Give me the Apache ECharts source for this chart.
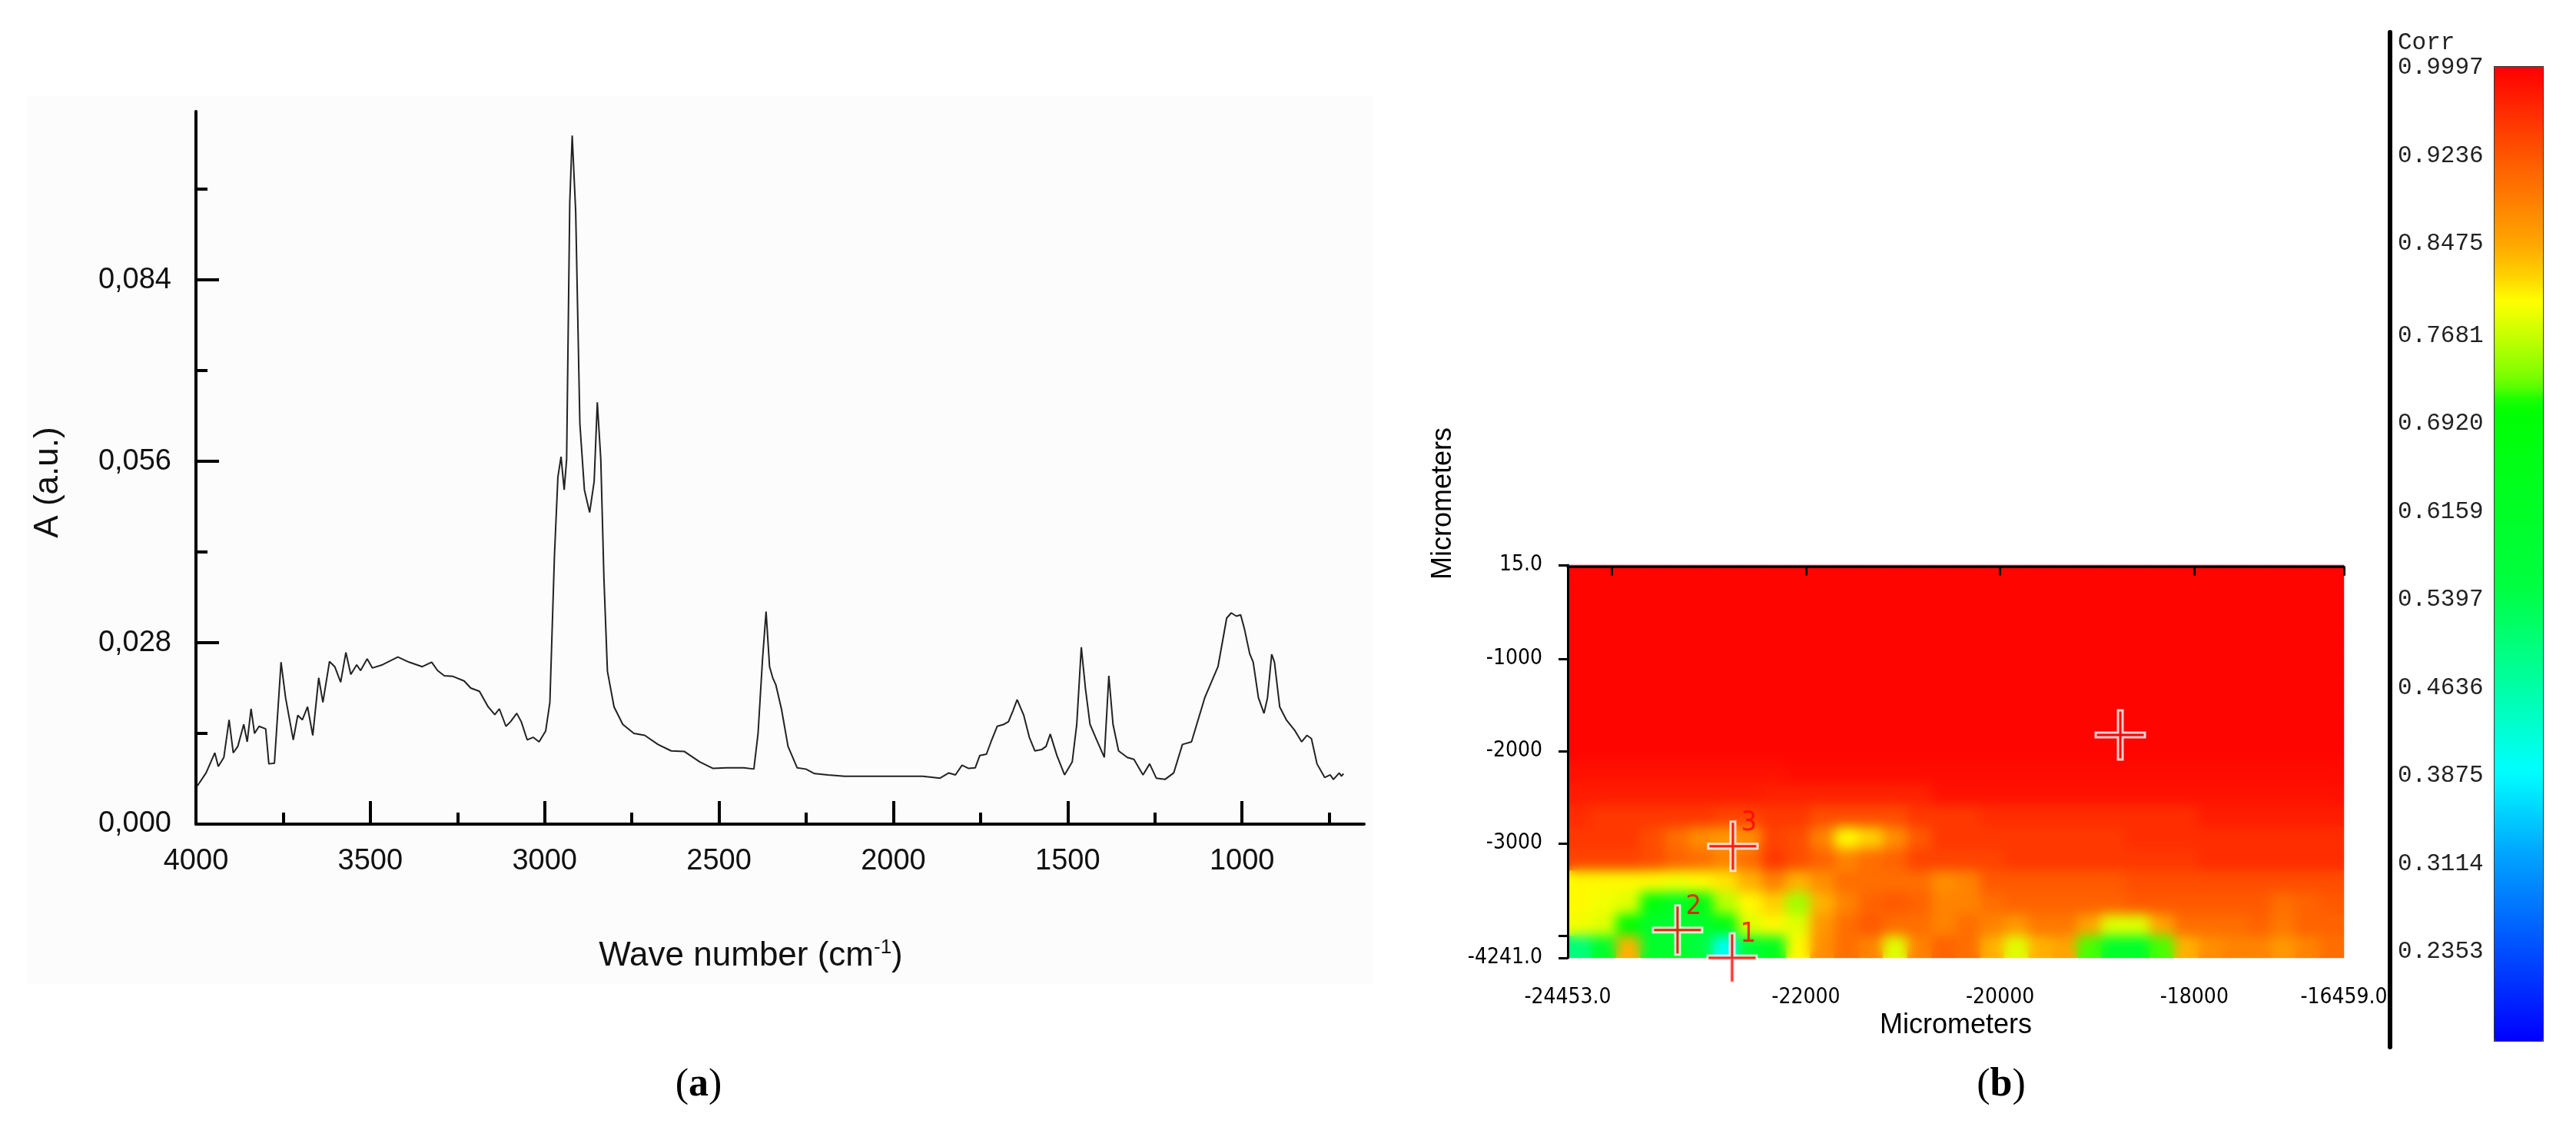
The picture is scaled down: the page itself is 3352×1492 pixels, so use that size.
<!DOCTYPE html>
<html>
<head>
<meta charset="utf-8">
<title>FTIR spectrum and correlation map</title>
<script src="https://cdn.jsdelivr.net/npm/echarts@6.0.0/dist/echarts.min.js"></script>
<style>
  html, body { margin: 0; padding: 0; background: #fff; }
  #chart { width: 3352px; height: 1492px; }
</style>
</head>
<body>
<div id="chart"></div>
<script>
// ---- (a) spectrum ----
var waveNumbers = [3996, 3971, 3946, 3936, 3920, 3905, 3893, 3880, 3863, 3853, 3842, 3832, 3819, 3800, 3791, 3775,
  3756, 3743, 3721, 3708, 3695, 3680, 3665, 3648, 3636, 3617, 3602, 3585, 3570, 3556, 3539, 3528, 3509, 3494,
  3465, 3421, 3389, 3351, 3324, 3307, 3288, 3263, 3231, 3212, 3187, 3162, 3143, 3130, 3111, 3098, 3080, 3067,
  3050, 3033, 3016, 2997, 2985, 2972, 2962, 2953, 2944, 2937, 2928, 2921, 2911, 2899, 2886, 2871, 2858, 2849,
  2839, 2830, 2820, 2801, 2776, 2744, 2713, 2675, 2637, 2599, 2555, 2517, 2479, 2428, 2400, 2388, 2375, 2365,
  2355, 2346, 2337, 2321, 2302, 2276, 2251, 2226, 2188, 2140, 2106, 2043, 1980, 1916, 1866, 1841, 1822, 1803,
  1784, 1765, 1752, 1733, 1720, 1702, 1683, 1670, 1657, 1645, 1626, 1610, 1594, 1575, 1562, 1550, 1531, 1509,
  1487, 1474, 1461, 1449, 1436, 1417, 1395, 1382, 1370, 1354, 1329, 1310, 1284, 1265, 1246, 1221, 1196, 1171,
  1145, 1107, 1069, 1044, 1031, 1016, 1004, 993, 978, 968, 953, 937, 927, 915, 907, 892, 873, 848, 829, 814,
  801, 785, 763, 747, 738, 721, 715, 709];
var absorbance = [0.0059, 0.0079, 0.0110, 0.0089, 0.0103, 0.0161, 0.0110, 0.0120, 0.0154, 0.0127, 0.0178, 0.0140, 0.0151, 0.0147, 0.0093, 0.0094,
  0.0250, 0.0195, 0.0130, 0.0168, 0.0161, 0.0181, 0.0137, 0.0226, 0.0188, 0.0251, 0.0243, 0.0219, 0.0265, 0.0231, 0.0246, 0.0237, 0.0255, 0.0241,
  0.0246, 0.0258, 0.0250, 0.0243, 0.0250, 0.0237, 0.0229, 0.0228, 0.0221, 0.0210, 0.0205, 0.0181, 0.0169, 0.0178, 0.0151, 0.0158, 0.0171, 0.0158,
  0.0130, 0.0134, 0.0127, 0.0144, 0.0188, 0.0413, 0.0536, 0.0567, 0.0516, 0.0563, 0.0959, 0.1063, 0.0945, 0.0618, 0.0516, 0.0481, 0.0529, 0.0651,
  0.0563, 0.0379, 0.0236, 0.0181, 0.0154, 0.0140, 0.0137, 0.0123, 0.0113, 0.0112, 0.0096, 0.0086, 0.0087, 0.0087, 0.0085, 0.0140, 0.0256, 0.0328,
  0.0243, 0.0226, 0.0215, 0.0178, 0.0120, 0.0087, 0.0085, 0.0078, 0.0076, 0.0074, 0.0074, 0.0074, 0.0074, 0.0074, 0.0071, 0.0079, 0.0076, 0.0091,
  0.0086, 0.0087, 0.0106, 0.0108, 0.0127, 0.0151, 0.0154, 0.0158, 0.0175, 0.0192, 0.0168, 0.0134, 0.0113, 0.0115, 0.0120, 0.0139, 0.0106, 0.0076,
  0.0096, 0.0154, 0.0273, 0.0209, 0.0154, 0.0130, 0.0103, 0.0229, 0.0154, 0.0113, 0.0103, 0.0100, 0.0076, 0.0093, 0.0071, 0.0069, 0.0079, 0.0123,
  0.0127, 0.0195, 0.0243, 0.0318, 0.0326, 0.0321, 0.0323, 0.0301, 0.0263, 0.0250, 0.0195, 0.0171, 0.0195, 0.0262, 0.0250, 0.0181, 0.0161, 0.0144, 0.0127, 0.0137,
  0.0132, 0.0093, 0.0072, 0.0076, 0.0069, 0.0079, 0.0074, 0.0078];
var specXRange = [650, 4000];
var specYRange = [0, 0.11];
var specXMajor = [4000, 3500, 3000, 2500, 2000, 1500, 1000];
var specXMinor = [3750, 3250, 2750, 2250, 1750, 1250, 750];
var specYMajor = [0, 0.028, 0.056, 0.084];
var specYMinor = [0.014, 0.042, 0.070, 0.098];

// ---- (b) correlation map ----
var mapXRange = [-24453, -16459];
var mapYRange = [-4241, 15];
var mapXTicks = [-24453, -24000, -22000, -20000, -18000, -16459];
var mapXLabels = [-24453, -22000, -20000, -18000, -16459];
var mapYTicks = [15, -1000, -2000, -3000, -4000, -4241];
var mapYLabels = [15, -1000, -2000, -3000, -4241];
// rows from top (y = 15) to bottom (y = -4241), 32 columns from left to right
var corrRows = [
  [0.995,0.995,0.995,0.995,0.995,0.995,0.995,0.995,0.995,0.995,0.995,0.995,0.995,0.995,0.995,0.995,0.995,0.995,0.995,0.995,0.995,0.995,0.995,0.995,0.995,0.995,0.995,0.995,0.995,0.995,0.995,0.995],
  [0.995,0.995,0.995,0.995,0.995,0.995,0.995,0.995,0.995,0.995,0.995,0.995,0.995,0.995,0.995,0.995,0.995,0.995,0.995,0.995,0.995,0.995,0.995,0.995,0.995,0.995,0.995,0.995,0.995,0.995,0.995,0.995],
  [0.995,0.995,0.995,0.995,0.995,0.995,0.995,0.995,0.995,0.995,0.995,0.995,0.995,0.995,0.995,0.995,0.995,0.995,0.995,0.995,0.995,0.995,0.995,0.995,0.995,0.995,0.995,0.995,0.995,0.995,0.995,0.995],
  [0.995,0.995,0.995,0.995,0.995,0.995,0.995,0.995,0.995,0.995,0.995,0.995,0.995,0.995,0.995,0.995,0.995,0.995,0.995,0.995,0.995,0.995,0.995,0.995,0.995,0.995,0.995,0.995,0.995,0.995,0.995,0.995],
  [0.995,0.995,0.995,0.995,0.995,0.995,0.995,0.995,0.995,0.995,0.995,0.995,0.995,0.995,0.995,0.995,0.995,0.995,0.995,0.995,0.995,0.995,0.995,0.995,0.995,0.995,0.995,0.995,0.995,0.995,0.995,0.995],
  [0.995,0.995,0.995,0.995,0.995,0.995,0.995,0.995,0.995,0.995,0.995,0.995,0.995,0.995,0.995,0.995,0.995,0.995,0.995,0.995,0.995,0.995,0.995,0.995,0.995,0.995,0.995,0.995,0.995,0.995,0.995,0.995],
  [0.995,0.995,0.995,0.995,0.995,0.995,0.995,0.995,0.995,0.995,0.995,0.995,0.995,0.995,0.995,0.995,0.995,0.995,0.995,0.995,0.995,0.995,0.995,0.995,0.995,0.995,0.995,0.995,0.995,0.995,0.995,0.995],
  [0.995,0.995,0.995,0.995,0.995,0.995,0.995,0.995,0.995,0.995,0.995,0.995,0.995,0.995,0.995,0.995,0.995,0.995,0.995,0.995,0.995,0.995,0.995,0.995,0.995,0.995,0.995,0.995,0.995,0.995,0.995,0.995],
  [0.995,0.995,0.995,0.995,0.995,0.995,0.995,0.995,0.995,0.995,0.995,0.995,0.995,0.995,0.995,0.995,0.995,0.995,0.995,0.995,0.995,0.995,0.995,0.995,0.995,0.995,0.995,0.995,0.995,0.995,0.995,0.995],
  [0.985,0.985,0.985,0.985,0.985,0.985,0.985,0.985,0.985,0.99,0.99,0.99,0.99,0.99,0.99,0.99,0.99,0.99,0.99,0.99,0.99,0.99,0.99,0.99,0.99,0.99,0.99,0.99,0.99,0.99,0.99,0.99],
  [0.975,0.975,0.975,0.975,0.975,0.975,0.975,0.975,0.97,0.97,0.97,0.97,0.97,0.97,0.97,0.985,0.985,0.985,0.985,0.985,0.985,0.985,0.985,0.985,0.985,0.985,0.985,0.985,0.985,0.985,0.985,0.985],
  [0.96,0.95,0.95,0.95,0.95,0.95,0.94,0.94,0.95,0.95,0.93,0.93,0.93,0.93,0.95,0.95,0.95,0.96,0.96,0.96,0.96,0.96,0.96,0.96,0.96,0.96,0.975,0.975,0.975,0.975,0.975,0.975],
  [0.95,0.95,0.95,0.93,0.9,0.87,0.86,0.87,0.94,0.93,0.88,0.8,0.82,0.87,0.92,0.95,0.95,0.95,0.95,0.95,0.95,0.95,0.95,0.96,0.96,0.96,0.96,0.96,0.96,0.96,0.96,0.96],
  [0.94,0.94,0.94,0.93,0.91,0.9,0.88,0.9,0.95,0.93,0.91,0.88,0.9,0.91,0.94,0.94,0.94,0.94,0.95,0.95,0.95,0.95,0.95,0.95,0.95,0.95,0.96,0.96,0.96,0.96,0.96,0.96],
  [0.8,0.8,0.8,0.8,0.79,0.8,0.81,0.84,0.88,0.84,0.87,0.9,0.9,0.9,0.9,0.87,0.88,0.92,0.92,0.92,0.92,0.92,0.92,0.93,0.93,0.93,0.93,0.93,0.93,0.93,0.93,0.93],
  [0.8,0.79,0.78,0.68,0.62,0.66,0.76,0.8,0.82,0.75,0.84,0.88,0.91,0.92,0.91,0.88,0.88,0.9,0.91,0.91,0.91,0.91,0.91,0.92,0.92,0.92,0.92,0.92,0.92,0.9,0.91,0.92],
  [0.79,0.78,0.7,0.6,0.58,0.6,0.66,0.78,0.8,0.78,0.86,0.9,0.92,0.9,0.9,0.88,0.9,0.88,0.86,0.89,0.89,0.85,0.78,0.78,0.85,0.9,0.9,0.9,0.91,0.89,0.91,0.91],
  [0.5,0.6,0.84,0.6,0.6,0.55,0.4,0.58,0.62,0.8,0.87,0.9,0.88,0.78,0.88,0.91,0.9,0.84,0.78,0.84,0.85,0.72,0.6,0.6,0.72,0.84,0.87,0.88,0.88,0.86,0.88,0.9]
];
var markerX = [-18762, -22752, -23322, -22760];
var markerY = [-1825, -3032, -3940, -4241];
var markerNames = ['', '3', '2', '1'];
var corrTicks = [0.9997, 0.9236, 0.8475, 0.7681, 0.6920, 0.6159, 0.5397, 0.4636, 0.3875, 0.3114, 0.2353];
var corrRange = [0.157, 0.9997];

// colour ramp of the Corr bar (rainbow, red on top)
var corrStops = [
  [0.157, '#0000ff'], [0.2375, '#0050ff'], [0.315, '#00a0ff'], [0.39, '#00ffff'], [0.467, '#00ffa0'],
  [0.55, '#00ff40'], [0.708, '#00ff00'], [0.726, '#70ff00'], [0.768, '#c8ff00'], [0.797, '#ffff00'],
  [0.82, '#ffd000'], [0.8475, '#ffa500'], [0.9236, '#ff5500'], [0.9997, '#ff0000']
];

function hexRgb(h) {
  return [parseInt(h.substr(1, 2), 16), parseInt(h.substr(3, 2), 16), parseInt(h.substr(5, 2), 16)];
}
// evenly spaced colour list for visualMap from the uneven stops
function rampColors(stops, n) {
  var out = [];
  var lo = stops[0][0], hi = stops[stops.length - 1][0];
  for (var i = 0; i < n; i++) {
    var v = lo + (hi - lo) * i / (n - 1);
    var k = 0;
    while (k < stops.length - 2 && v > stops[k + 1][0]) k++;
    var a = stops[k], b = stops[k + 1];
    var t = Math.max(0, Math.min(1, (v - a[0]) / (b[0] - a[0])));
    var ca = hexRgb(a[1]), cb = hexRgb(b[1]);
    out.push('rgb(' + ca.map(function (c, j) { return Math.round(c + (cb[j] - c) * t); }).join(',') + ')');
  }
  return out;
}

var specData = waveNumbers.map(function (w, i) { return [w, absorbance[i]]; });
var heatData = [];
corrRows.forEach(function (row, r) {
  row.forEach(function (v, c) { heatData.push([c, r, v]); });
});
var markerData = markerX.map(function (x, i) { return { name: markerNames[i], value: [x, markerY[i]] }; });

var sansFont = "'Liberation Sans', Arial, sans-serif";
var narrowFont = "'Liberation Sans Narrow', 'DejaVu Sans Condensed', 'Liberation Sans', sans-serif";
var monoFont = "'Liberation Mono', 'DejaVu Sans Mono', monospace";

var chart = echarts.init(document.getElementById('chart'));

chart.setOption({
  backgroundColor: '#ffffff',
  animation: false,
  grid: [
    { left: 255, top: 145, width: 1520, height: 927 },   // spectrum
    { left: 2040, top: 735, width: 1010, height: 511 },  // heatmap cells
    { left: 2040, top: 735, width: 1010, height: 511 },  // heatmap axes
    { left: 3110, top: 42, width: 135, height: 1320 }    // Corr scale
  ],
  xAxis: [
    {
      type: 'value', gridIndex: 0, position: 'bottom', inverse: true,
      min: specXRange[0], max: specXRange[1],
      axisLine: { lineStyle: { color: '#000', width: 4 } },
      axisTick: { customValues: specXMajor, inside: true, length: 30, lineStyle: { color: '#000', width: 4 } },
      axisLabel: {
        customValues: specXMajor, margin: 30, fontSize: 38, color: '#111', fontFamily: sansFont,
        formatter: function (v) { return String(v); }
      },
      splitLine: { show: false },
      name: 'Wave number (cm{sup|-1})', nameLocation: 'middle', nameGap: 148,
      nameTextStyle: {
        fontSize: 44, color: '#111', fontFamily: sansFont, padding: [0, 76, 0, 0],
        rich: { sup: { fontSize: 26, verticalAlign: 'top', padding: [0, 0, 22, 0], color: '#111', fontFamily: sansFont } }
      }
    },
    {
      type: 'value', gridIndex: 0, position: 'bottom', inverse: true,
      min: specXRange[0], max: specXRange[1],
      axisLine: { show: false },
      axisTick: { customValues: specXMinor, inside: true, length: 15, lineStyle: { color: '#000', width: 4 } },
      axisLabel: { show: false }, splitLine: { show: false }
    },
    {
      type: 'category', gridIndex: 1, show: false,
      data: corrRows[0].map(function (v, i) { return i; })
    },
    {
      type: 'value', gridIndex: 2, position: 'bottom', zlevel: 2,
      min: mapXRange[0], max: mapXRange[1],
      axisLine: { lineStyle: { color: '#000', width: 3 } },
      axisTick: { customValues: mapXTicks, length: 12, lineStyle: { color: '#000', width: 3 } },
      axisLabel: {
        customValues: mapXLabels, margin: 38, fontSize: 28, color: '#000', fontFamily: narrowFont,
        formatter: function (v) { return (v === mapXRange[0] || v === mapXRange[1]) ? v.toFixed(1) : String(v); }
      },
      splitLine: { show: false },
      name: 'Micrometers', nameLocation: 'middle', nameGap: 70,
      nameTextStyle: { fontSize: 36, color: '#000', fontFamily: sansFont }
    },
    { type: 'value', gridIndex: 3, show: false, min: 0, max: 1 }
  ],
  yAxis: [
    {
      type: 'value', gridIndex: 0, position: 'left',
      min: specYRange[0], max: specYRange[1],
      axisLine: { show: true, lineStyle: { color: '#000', width: 4 } },
      axisTick: { show: true, customValues: specYMajor, inside: true, length: 30, lineStyle: { color: '#000', width: 4 } },
      axisLabel: {
        customValues: specYMajor, margin: 32, fontSize: 38, color: '#111', fontFamily: sansFont,
        formatter: function (v) { return v.toFixed(3).replace('.', ','); }
      },
      splitLine: { show: false },
      name: 'A (a.u.)', nameLocation: 'middle', nameRotate: 90, nameGap: 170,
      nameTextStyle: { fontSize: 44, color: '#111', fontFamily: sansFont, padding: [0, 38, 0, 0] }
    },
    {
      type: 'value', gridIndex: 0, position: 'left',
      min: specYRange[0], max: specYRange[1],
      axisLine: { show: false },
      axisTick: { show: true, customValues: specYMinor, inside: true, length: 15, lineStyle: { color: '#000', width: 4 } },
      axisLabel: { show: false }, splitLine: { show: false }
    },
    {
      type: 'category', gridIndex: 1, show: false, inverse: true,
      data: corrRows.map(function (v, i) { return i; })
    },
    {
      type: 'value', gridIndex: 2, position: 'left', zlevel: 2,
      min: mapYRange[0], max: mapYRange[1],
      axisLine: { show: true, lineStyle: { color: '#000', width: 3 } },
      axisTick: { show: true, customValues: mapYTicks, length: 12, lineStyle: { color: '#000', width: 3 } },
      axisLabel: {
        customValues: mapYLabels, margin: 33, fontSize: 28, color: '#000', fontFamily: narrowFont,
        padding: [0, 0, 24, 0],
        formatter: function (v) { return (v === mapYRange[0] || v === mapYRange[1]) ? v.toFixed(1) : String(v); }
      },
      splitLine: { show: false }
    },
    {
      type: 'value', gridIndex: 3, position: 'left',
      min: 0.153, max: 1.0303,
      axisLine: { show: true, lineStyle: { color: '#000', width: 6 } },
      axisTick: { show: false },
      axisLabel: {
        customValues: corrTicks, inside: true, margin: 10, fontSize: 31, color: '#222', fontFamily: monoFont,
        formatter: function (v) { return v.toFixed(4); }
      },
      splitLine: { show: false }
    }
  ],
  visualMap: {
    type: 'continuous',
    seriesIndex: [1, 2],
    min: corrRange[0], max: corrRange[1],
    calculable: false, hoverLink: false,
    orient: 'vertical',
    left: 3245, top: 86,
    itemWidth: 63, itemHeight: 1267,
    padding: 0,
    borderColor: '#333', borderWidth: 2,
    text: null, showLabel: false,
    inRange: { color: rampColors(corrStops, 80) }
  },
  graphic: [
    {
      type: 'rect', z: -10, silent: true,
      shape: { x: 35, y: 125, width: 1753, height: 1155 },
      style: { fill: '#fcfcfd' }
    },
    {
      type: 'text', x: 1878, y: 655, rotation: Math.PI / 2, silent: true,
      style: { text: 'Micrometers', fill: '#000', font: "36px 'Liberation Sans', Arial, sans-serif", align: 'center', verticalAlign: 'middle' }
    },
    {
      type: 'text', x: 3120, y: 56, silent: true,
      style: { text: 'Corr', fill: '#222', font: "31px 'Liberation Mono', 'DejaVu Sans Mono', monospace", align: 'left', verticalAlign: 'middle' }
    },
    {
      type: 'text', x: 909, y: 1412, silent: true,
      style: {
        text: '{p|(}{b|a}{p|)}', align: 'center', verticalAlign: 'middle',
        rich: {
          p: { fontSize: 52, fontFamily: "'Liberation Serif', 'DejaVu Serif', serif", fill: '#000' },
          b: { fontSize: 52, fontWeight: 'bold', fontFamily: "'Liberation Serif', 'DejaVu Serif', serif", fill: '#000' }
        }
      }
    },
    {
      type: 'text', x: 2604, y: 1412, silent: true,
      style: {
        text: '{p|(}{b|b}{p|)}', align: 'center', verticalAlign: 'middle',
        rich: {
          p: { fontSize: 52, fontFamily: "'Liberation Serif', 'DejaVu Serif', serif", fill: '#000' },
          b: { fontSize: 52, fontWeight: 'bold', fontFamily: "'Liberation Serif', 'DejaVu Serif', serif", fill: '#000' }
        }
      }
    }
  ],
  series: [
    {
      name: 'Absorbance', type: 'line', xAxisIndex: 0, yAxisIndex: 0,
      data: specData, showSymbol: false, smooth: false,
      lineStyle: { color: '#222', width: 2 }
    },
    {
      // crisp cells, underneath
      name: 'Corr', type: 'heatmap', xAxisIndex: 2, yAxisIndex: 2,
      data: heatData, progressive: 0
    },
    {
      // same cells on their own canvas layer, softened below
      name: 'Corr', type: 'heatmap', xAxisIndex: 2, yAxisIndex: 2, zlevel: 1,
      data: heatData, progressive: 0
    },
    {
      name: 'Points', type: 'scatter', xAxisIndex: 3, yAxisIndex: 3, zlevel: 2,
      data: markerData, clip: false, z: 5,
      symbol: 'path://M14.5,0 H17.5 V14.5 H32 V17.5 H17.5 V32 H14.5 V17.5 H0 V14.5 H14.5 Z',
      symbolSize: 64,
      itemStyle: { color: '#ff0000', borderColor: '#ffffff', borderWidth: 3 },
      label: {
        show: true, position: 'inside', offset: [21, -30],
        formatter: '{b}', color: '#ff0000', fontSize: 36, fontFamily: narrowFont
      }
    }
  ]
});

// the map in the reference is smoothly shaded: blur the heatmap layer and clip it to the plot area
function softenHeatLayer() {
  var layer = document.querySelector('#chart canvas[data-zr-dom-id="zr_1"]');
  if (!layer) return;
  layer.style.filter = 'blur(8px)';
  layer.style.clipPath = 'inset(735px 302px 246px 2040px)';
}
chart.on('finished', softenHeatLayer);
softenHeatLayer();
</script>
</body>
</html>
